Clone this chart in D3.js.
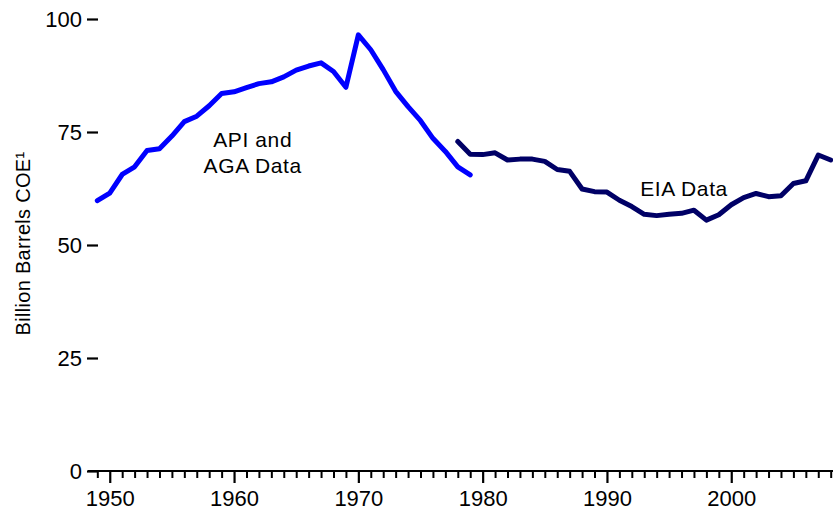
<!DOCTYPE html>
<html>
<head>
<meta charset="utf-8">
<script src="https://cdn.jsdelivr.net/npm/d3@7"></script>
<style>
  html, body { margin: 0; padding: 0; background: #fff; }
  svg { display: block; font-family: "Liberation Sans", Arial, sans-serif; }
</style>
</head>
<body>
<svg id="chart" width="833" height="511"></svg>
<script>
// ---- data ----
const apiYears = [1949,1950,1951,1952,1953,1954,1955,1956,1957,1958,1959,1960,1961,1962,1963,1964,1965,1966,1967,1968,1969,1970,1971,1972,1973,1974,1975,1976,1977,1978,1979];
const apiValues = [59.8,61.5,65.6,67.3,70.9,71.3,74.1,77.3,78.5,80.8,83.5,83.9,84.8,85.7,86.1,87.2,88.7,89.6,90.3,88.4,84.9,96.5,93.2,88.8,84.0,80.6,77.5,73.6,70.7,67.3,65.5];
const eiaYears = [1978,1979,1980,1981,1982,1983,1984,1985,1986,1987,1988,1989,1990,1991,1992,1993,1994,1995,1996,1997,1998,1999,2000,2001,2002,2003,2004,2005,2006,2007,2008];
const eiaValues = [72.9,70.1,70.0,70.4,68.8,69.0,69.0,68.5,66.7,66.3,62.4,61.8,61.7,59.9,58.5,56.8,56.5,56.8,57.0,57.7,55.5,56.7,58.9,60.5,61.4,60.7,60.9,63.6,64.2,69.9,68.8];
const yTicks = [0, 25, 50, 75, 100];
const xMajorTicks = [1950, 1960, 1970, 1980, 1990, 2000];
const labels = [
  { lines: ["API and", "AGA Data"], year: 1961.5, value: 71.7 },
  { lines: ["EIA Data"], year: 1996.2, value: 60.9 }
];

// ---- layout ----
const svg = d3.select("#chart");
const x = d3.scaleLinear().domain([1948.25, 2008.25]).range([88, 833.8]);
const y = d3.scaleLinear().domain([0, 100]).range([471, 19]);
const tickFont = 22;

// y-axis ticks (no spine)
const yAxis = d3.axisLeft(y).tickValues(yTicks).tickSize(11).tickPadding(5).tickFormat(d3.format("d"));
const gy = svg.append("g").attr("transform", "translate(98,0)").call(yAxis);
gy.select(".domain").remove();
gy.selectAll(".tick line").attr("stroke", "#000").attr("stroke-width", 2.2);
gy.selectAll(".tick text").attr("font-size", tickFont).attr("fill", "#000")
  .attr("font-family", "Liberation Sans, Arial, sans-serif");

// x-axis: baseline + minor and major ticks
const minorYears = d3.range(1949, 2009).filter(v => v % 10 !== 0);
const xMinor = d3.axisBottom(x).tickValues(minorYears).tickSize(7).tickFormat("");
const gxm = svg.append("g").attr("transform", `translate(0,${y(0)})`).call(xMinor);
gxm.select(".domain").remove();
gxm.selectAll(".tick line").attr("stroke", "#000").attr("stroke-width", 2);

const xMajor = d3.axisBottom(x).tickValues(xMajorTicks).tickSize(12).tickPadding(7).tickFormat(d3.format("d"));
const gx = svg.append("g").attr("transform", `translate(0,${y(0)})`).call(xMajor);
gx.select(".domain").remove();
gx.selectAll(".tick line").attr("stroke", "#000").attr("stroke-width", 2.2);
gx.selectAll(".tick text").attr("font-size", tickFont).attr("fill", "#000")
  .attr("font-family", "Liberation Sans, Arial, sans-serif");

svg.append("line")
  .attr("x1", x(1948.25)).attr("x2", 833)
  .attr("y1", y(0)).attr("y2", y(0))
  .attr("stroke", "#000").attr("stroke-width", 2.2);

// lines
const line = d3.line().x(d => x(d[0])).y(d => y(d[1]));
svg.append("path")
  .datum(apiYears.map((yr, i) => [yr, apiValues[i]]))
  .attr("d", line).attr("fill", "none")
  .attr("stroke", "#0000ff").attr("stroke-width", 5)
  .attr("stroke-linejoin", "round").attr("stroke-linecap", "round");
svg.append("path")
  .datum(eiaYears.map((yr, i) => [yr, eiaValues[i]]))
  .attr("d", line).attr("fill", "none")
  .attr("stroke", "#000066").attr("stroke-width", 5)
  .attr("stroke-linejoin", "round").attr("stroke-linecap", "round");

// annotations
labels.forEach(l => {
  const t = svg.append("text")
    .attr("text-anchor", "middle")
    .attr("letter-spacing", "0.6px")
    .attr("font-size", 21).attr("fill", "#000");
  l.lines.forEach((s, i) => {
    t.append("tspan").attr("x", x(l.year)).attr("y", y(l.value) + i * 26).text(s);
  });
});

// y-axis title
svg.append("text")
  .attr("transform", `translate(30,${243.5}) rotate(-90)`)
  .attr("text-anchor", "middle")
  .attr("letter-spacing", "0.3px")
  .attr("font-size", 20).attr("fill", "#000")
  .text("Billion Barrels COE¹");
</script>
</body>
</html>
